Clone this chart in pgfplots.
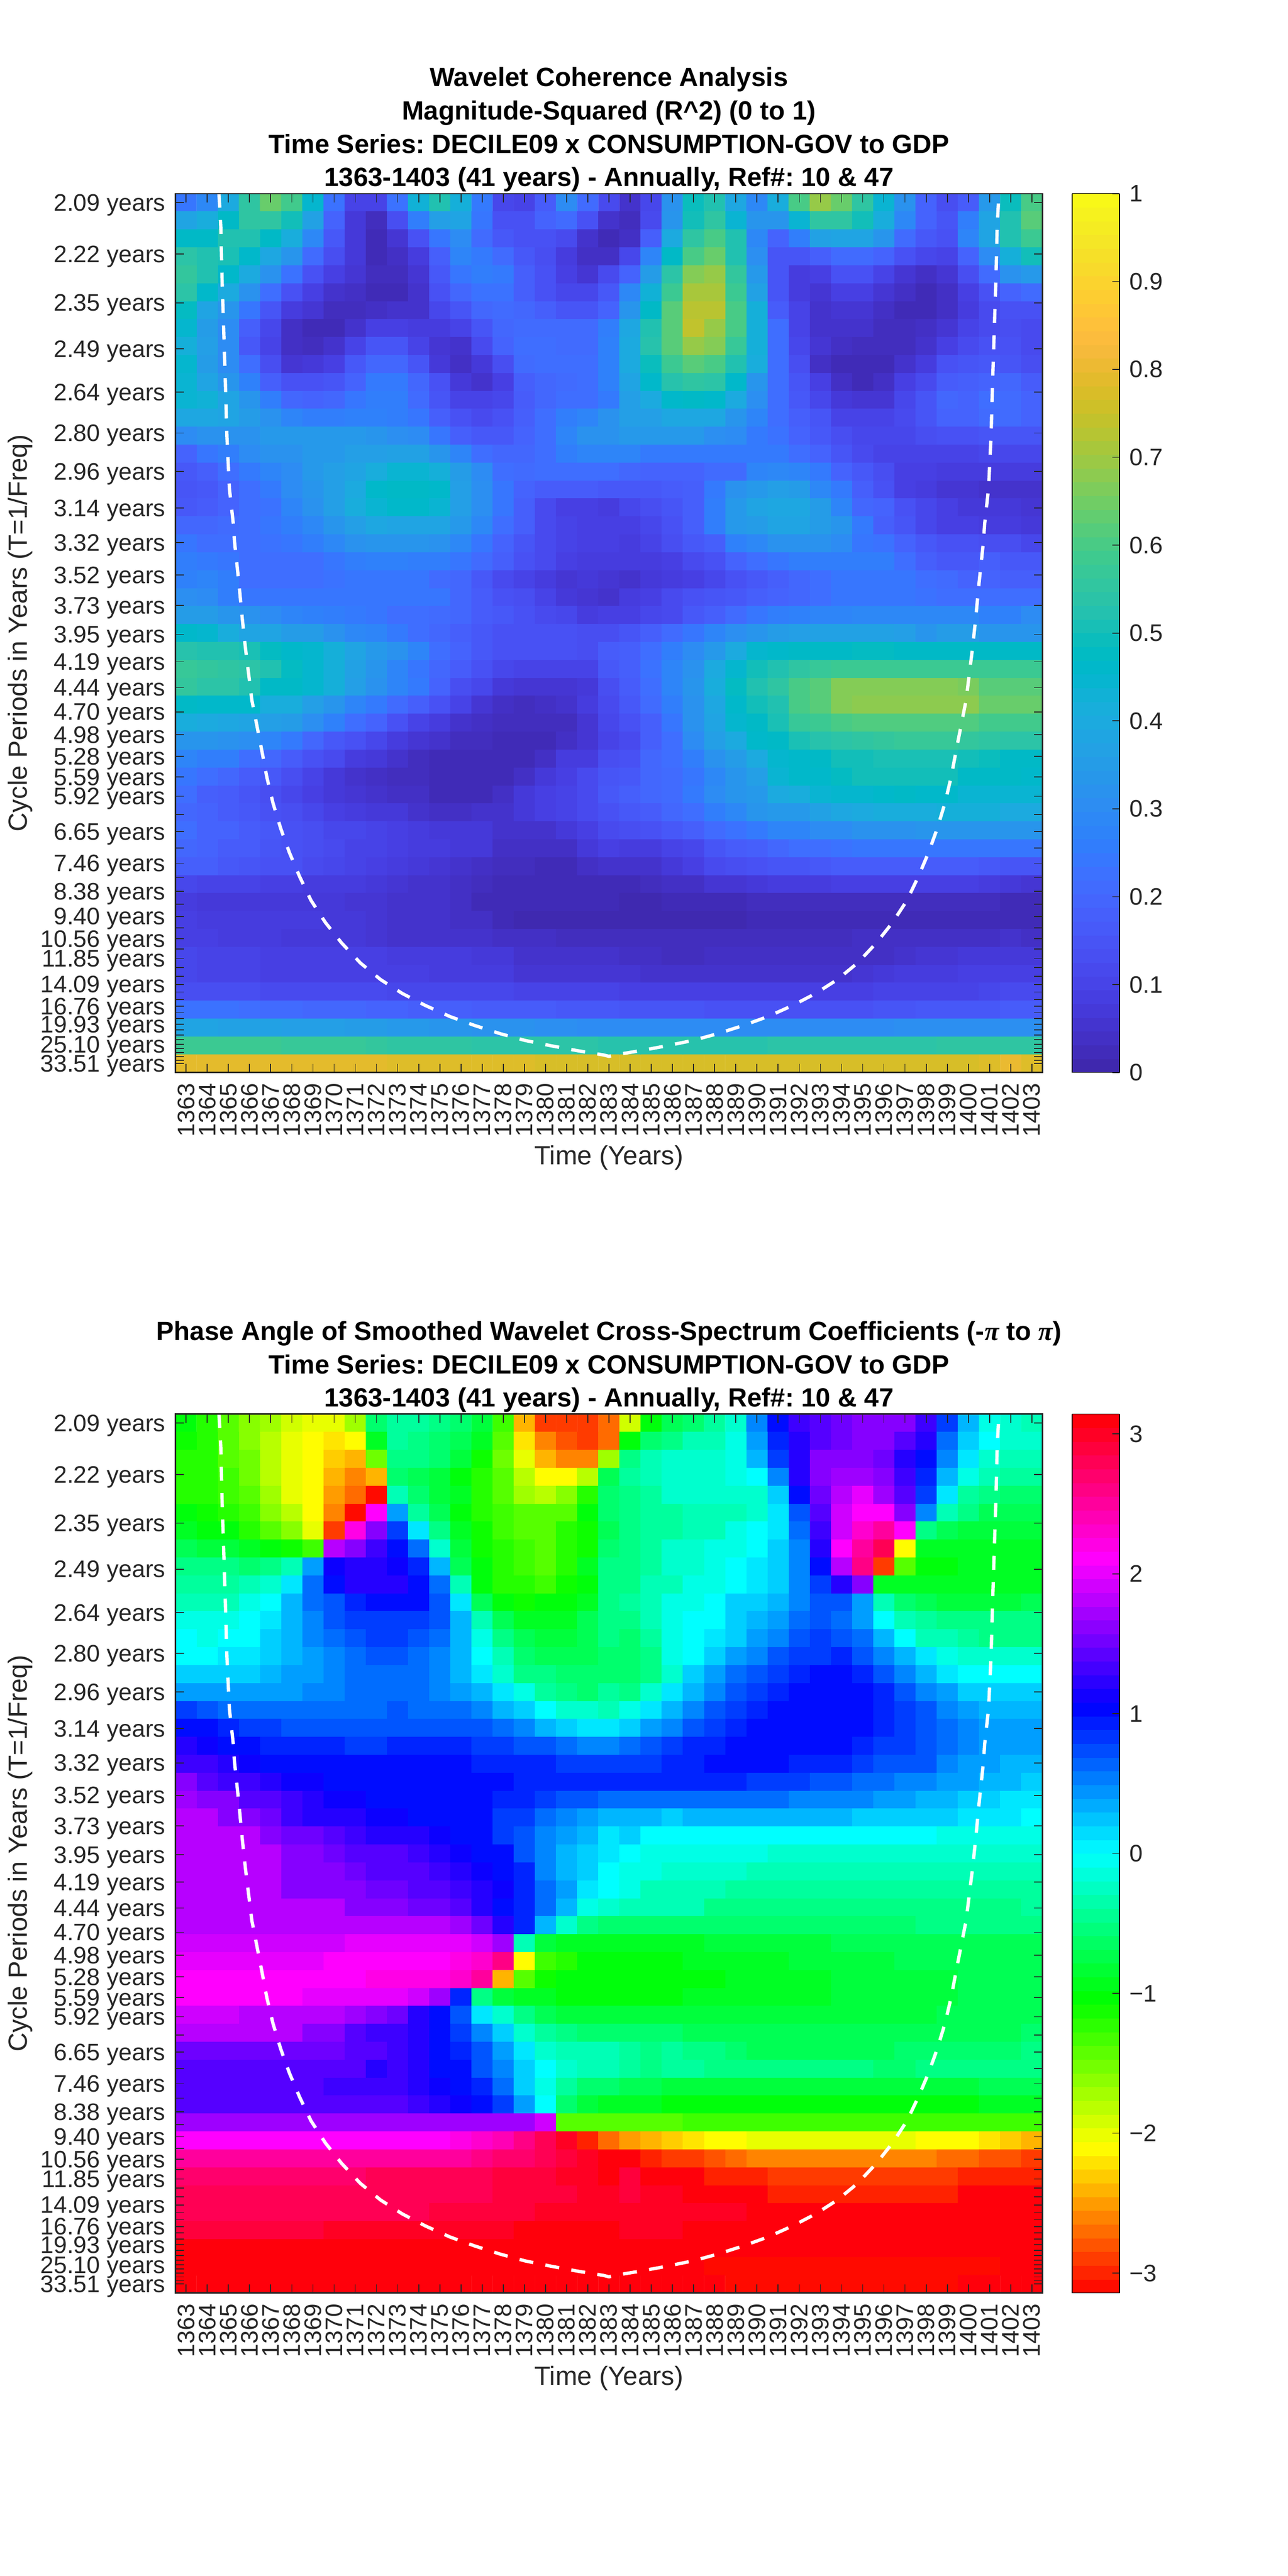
\documentclass[border=0pt]{standalone}
\usepackage{pgfplots}
\usepackage{pgfplotstable}
\usepackage{fontspec}
\pgfplotsset{compat=1.18}
\setmainfont{Liberation Sans}
\newfontfamily\pifont{Liberation Serif}
\pgfplotsset{colormap={parulaold}{rgb=(.2422,.1504,.6603) rgb=(.2504,.1650,.7076) rgb=(.2578,.1818,.7511) rgb=(.2647,.1978,.7952) rgb=(.2706,.2147,.8364) rgb=(.2751,.2342,.8710) rgb=(.2783,.2559,.8991) rgb=(.2803,.2782,.9221) rgb=(.2813,.3006,.9414) rgb=(.2810,.3228,.9579) rgb=(.2795,.3447,.9717) rgb=(.2760,.3667,.9829) rgb=(.2699,.3892,.9906) rgb=(.2602,.4123,.9952) rgb=(.2440,.4358,.9988) rgb=(.2206,.4603,.9973) rgb=(.1963,.4847,.9892) rgb=(.1834,.5074,.9798) rgb=(.1786,.5289,.9682) rgb=(.1764,.5499,.9520) rgb=(.1687,.5703,.9359) rgb=(.1540,.5902,.9218) rgb=(.1460,.6091,.9079) rgb=(.1380,.6276,.8973) rgb=(.1248,.6459,.8883) rgb=(.1113,.6635,.8763) rgb=(.0952,.6798,.8598) rgb=(.0689,.6948,.8394) rgb=(.0297,.7082,.8163) rgb=(.0036,.7203,.7917) rgb=(.0067,.7312,.7660) rgb=(.0433,.7411,.7394) rgb=(.0964,.7500,.7120) rgb=(.1408,.7584,.6842) rgb=(.1717,.7670,.6554) rgb=(.1938,.7758,.6251) rgb=(.2161,.7843,.5923) rgb=(.2470,.7918,.5567) rgb=(.2906,.7973,.5188) rgb=(.3406,.8008,.4789) rgb=(.3909,.8029,.4354) rgb=(.4456,.8024,.3909) rgb=(.5044,.7993,.3480) rgb=(.5616,.7942,.3045) rgb=(.6174,.7876,.2612) rgb=(.6720,.7793,.2227) rgb=(.7242,.7698,.1910) rgb=(.7738,.7598,.1646) rgb=(.8203,.7498,.1535) rgb=(.8634,.7406,.1596) rgb=(.9035,.7330,.1774) rgb=(.9393,.7288,.2100) rgb=(.9728,.7298,.2394) rgb=(.9956,.7434,.2371) rgb=(.9970,.7659,.2199) rgb=(.9952,.7893,.2028) rgb=(.9892,.8136,.1885) rgb=(.9786,.8386,.1766) rgb=(.9676,.8639,.1643) rgb=(.9610,.8890,.1537) rgb=(.9597,.9135,.1423) rgb=(.9628,.9373,.1265) rgb=(.9691,.9606,.1064) rgb=(.9769,.9839,.0805)}}
\pgfplotsset{colormap={hsvold}{rgb=(1,0,0) rgb=(1,1,0) rgb=(0,1,0) rgb=(0,1,1) rgb=(0,0,1) rgb=(1,0,1) rgb=(1,0,0)}}
% R^2 x 100: 49 rows (periods) x 41 columns (years)
\pgfplotstableread[header=false]{
24 29 40 55 64 59 45 23 10 10 23 43 52 42 25 11 10 17 30 21 12 5 11 32 49 52 39 29 41 60 69 64 55 44 32 19 13 17 34 49 60
38 41 47 55 55 50 37 19 7 3 13 26 36 38 24 14 14 19 21 14 5 3 12 33 50 55 44 33 33 44 55 55 50 41 29 19 15 26 38 52 62
47 47 52 52 47 41 29 16 7 2 6 14 24 30 21 16 14 14 12 5 2 4 18 40 55 60 52 29 19 26 37 38 38 33 21 16 14 28 38 52 58
54 52 51 46 39 33 21 13 7 2 4 8 18 28 25 21 16 13 8 4 4 11 28 47 60 64 52 31 15 15 18 21 21 19 14 11 10 19 30 42 50
56 52 46 40 32 23 14 9 6 3 3 6 16 24 26 25 18 14 9 6 12 19 35 54 67 69 56 34 15 8 9 14 14 10 6 4 6 13 21 32 34
54 46 40 32 22 14 9 5 4 2 2 5 14 20 23 23 18 14 11 11 16 29 43 58 71 71 58 37 15 8 6 9 9 6 4 2 4 9 14 19 21
48 38 33 24 15 8 6 3 3 4 5 5 11 15 20 21 20 18 15 15 19 33 47 62 73 73 60 42 17 10 5 6 6 4 2 2 4 8 12 14 14
45 35 30 18 11 4 2 2 5 9 9 8 8 10 15 20 21 21 21 21 26 39 52 62 74 69 60 42 22 10 5 5 5 3 3 4 6 10 12 13 12
42 36 30 16 10 4 3 5 10 15 15 10 6 5 12 19 22 22 21 21 27 40 53 62 69 67 57 42 22 11 6 4 3 3 3 5 9 12 14 14 12
45 35 30 22 13 6 7 9 16 20 20 15 7 4 7 13 21 22 22 22 27 40 49 58 62 60 52 41 22 13 4 2 2 2 5 8 14 15 16 15 13
44 38 33 27 18 14 14 15 19 25 25 20 14 7 5 9 18 20 21 22 27 38 46 53 55 54 46 33 22 15 9 4 2 4 9 12 17 18 19 20 17
44 43 38 33 26 20 19 20 24 26 26 21 15 10 10 11 17 20 22 22 25 36 40 46 47 46 40 31 22 16 11 7 6 6 11 15 20 19 22 21 19
39 39 38 35 32 28 26 26 27 27 26 24 18 14 12 14 18 22 26 28 32 36 36 39 39 39 33 28 22 18 15 10 10 10 12 15 19 19 21 21 19
30 32 32 32 34 34 34 34 34 33 31 30 24 18 16 16 19 22 28 32 32 34 34 34 34 31 30 25 23 19 16 13 11 11 11 13 14 14 15 15 15
19 24 26 30 32 32 34 34 36 36 37 37 33 28 22 20 20 22 26 28 28 28 25 25 25 25 25 25 25 22 19 15 12 10 10 10 10 10 11 11 11
16 18 22 25 28 30 34 36 38 41 44 44 42 35 30 22 21 22 22 22 22 20 19 19 19 21 21 28 29 28 25 19 16 13 9 9 8 8 8 8 8
15 16 19 22 25 30 33 36 40 46 47 47 46 36 31 24 19 17 17 17 16 16 16 17 18 25 32 34 36 35 29 25 18 14 9 8 6 6 5 5 5
16 17 19 22 23 28 32 36 41 44 46 46 44 36 31 24 18 12 9 9 8 11 13 15 18 26 34 38 39 39 35 28 20 19 14 11 9 7 7 7 6
20 20 21 22 24 26 29 33 36 39 38 38 38 34 29 22 18 12 10 9 9 9 11 14 18 26 34 35 38 38 35 33 25 18 15 11 9 9 8 8 7
24 22 22 22 23 24 26 29 32 33 33 33 32 29 24 19 15 12 10 9 9 8 10 13 16 18 27 29 32 32 32 30 24 23 19 16 14 14 13 13 11
26 25 24 22 22 22 22 24 26 27 27 26 26 24 21 18 14 12 9 8 8 8 8 9 12 14 19 22 24 26 26 26 26 26 22 18 16 16 18 16 16
27 28 26 22 22 22 22 23 24 24 24 24 21 20 16 12 10 8 6 7 6 5 7 8 9 11 14 16 18 20 22 24 24 24 24 22 21 19 19 18 18
31 30 26 24 24 24 24 24 24 24 24 24 24 20 17 14 13 10 7 6 5 8 9 12 14 15 16 18 19 20 22 24 24 24 24 23 22 22 22 22 22
35 35 33 32 30 28 27 26 25 24 22 22 21 20 17 16 14 12 11 8 9 9 11 12 16 18 21 24 26 27 28 28 29 29 29 29 29 29 27 27 30
46 45 41 38 38 35 35 32 29 28 25 22 20 18 16 14 14 14 14 13 13 15 18 21 24 28 31 33 35 36 37 37 37 37 36 33 35 35 33 33 33
53 52 52 51 48 46 45 42 38 34 32 28 22 19 16 14 14 14 14 13 17 18 22 26 30 34 40 45 46 47 47 47 48 48 47 47 47 47 47 47 47
57 56 55 54 52 48 45 42 37 33 28 24 20 17 14 11 10 10 10 10 16 18 23 28 32 40 45 50 52 55 57 58 58 58 58 58 58 58 58 58 58
56 54 54 52 47 47 45 42 36 32 28 25 19 13 11 7 6 6 6 7 13 17 22 28 33 41 48 52 55 60 62 67 67 67 67 67 67 66 62 62 62
47 46 46 46 41 41 36 33 28 25 21 18 14 10 6 4 3 4 5 8 12 16 21 26 32 39 46 50 52 60 62 67 68 68 68 68 68 68 64 64 64
41 40 39 38 36 35 31 27 22 19 14 10 8 5 4 3 3 3 3 6 11 14 18 24 32 38 45 47 51 57 58 60 61 61 61 61 61 61 59 59 59
33 33 32 31 28 25 20 16 14 11 8 6 5 3 3 2 2 2 4 6 10 12 18 22 30 36 40 46 47 51 53 54 55 56 57 57 57 56 55 54 54
28 26 26 22 20 17 14 12 8 7 5 3 2 2 2 2 2 4 8 8 13 14 20 22 26 32 35 40 45 46 47 50 50 51 51 51 51 50 49 47 47
24 22 20 17 16 13 10 7 5 4 3 3 2 2 2 2 4 7 9 12 15 16 20 21 24 29 33 36 44 46 46 48 50 50 50 50 50 47 47 47 46
22 18 17 15 13 11 9 7 6 5 4 4 2 2 2 4 7 9 10 12 16 18 20 21 25 30 33 34 40 41 44 45 45 46 47 46 46 44 44 44 44
20 19 17 16 14 13 11 9 8 7 7 5 4 4 5 5 7 9 10 12 14 16 17 20 22 26 29 33 34 34 37 39 40 41 41 41 42 42 42 40 40
22 19 19 17 16 14 13 11 11 10 9 8 7 7 7 5 5 5 7 9 12 13 14 16 18 21 23 25 28 28 30 30 32 32 32 33 33 33 33 33 33
20 19 17 17 15 14 13 12 10 10 9 8 8 7 7 4 4 4 4 7 9 8 8 10 11 15 17 18 20 22 22 23 24 24 24 24 24 24 24 24 24
18 18 16 15 14 14 12 11 10 9 8 7 6 5 4 3 3 2 2 4 5 5 5 7 9 12 13 14 15 15 16 17 17 17 17 17 17 17 16 15 15
11 10 10 10 9 9 8 8 8 7 6 5 5 4 3 2 2 2 2 2 2 2 3 4 4 6 6 7 8 8 8 9 9 9 9 9 9 9 8 7 6
8 7 7 7 7 7 7 7 6 6 5 5 5 4 2 2 2 2 2 2 2 1 1 2 2 2 2 3 3 3 3 3 3 3 3 3 3 3 3 2 2
9 8 8 8 8 8 8 7 7 6 5 5 5 4 4 2 1 1 1 1 1 1 1 1 1 1 1 2 2 2 2 2 2 2 2 2 2 2 2 2 2
9 9 8 8 8 7 7 7 7 6 5 5 5 5 5 4 4 4 3 3 3 3 3 3 3 3 3 3 3 3 3 3 4 4 4 4 4 4 4 5 4
11 10 10 10 9 9 9 9 9 9 8 8 8 8 7 7 5 5 5 5 5 4 4 3 3 4 4 4 4 4 4 4 4 4 5 6 6 7 7 7 7
11 10 10 10 9 9 9 9 9 9 9 9 8 8 8 8 6 6 6 6 6 6 5 5 5 5 5 5 5 5 5 5 6 7 8 8 8 9 9 9 9
13 13 13 13 12 12 12 12 12 12 11 11 11 11 11 11 10 10 10 10 10 9 9 9 9 9 9 9 9 9 9 9 9 10 10 10 10 10 11 12 12
23 23 23 22 21 21 20 20 20 19 19 18 18 18 17 17 17 17 16 16 16 15 15 15 15 14 14 14 14 14 14 14 14 15 15 16 16 16 16 17 17
38 38 37 37 37 36 36 36 35 35 34 34 33 33 32 32 32 31 31 30 30 30 30 30 30 30 30 30 30 30 30 30 30 30 31 31 31 31 31 31 31
58 58 58 58 58 57 57 57 57 56 55 55 55 55 54 54 54 54 54 54 53 53 53 53 53 53 53 53 54 54 54 54 54 54 54 54 55 55 55 55 55
79 79 79 79 79 79 79 79 79 79 78 78 78 78 78 78 78 77 77 77 77 77 77 77 77 77 77 77 77 77 77 77 77 77 77 77 77 77 78 80 78
}\tableA
% phase angle x 10 (radians)
\pgfplotstableread[header=false]{
-10 -12 -14 -16 -17 -19 -20 -20 -17 -6 -4 -4 -5 -6 -8 -13 -24 -29 -29 -29 -27 -19 -10 -7 -6 -4 -2 5 10 13 14 15 16 16 16 13 8 3 -1 -2 -3
-11 -12 -14 -16 -18 -20 -21 -22 -21 -9 -4 -5 -6 -7 -9 -14 -22 -26 -28 -29 -27 -10 -6 -5 -3 -3 -1 4 9 12 14 15 16 16 14 12 6 2 0 -2 -2
-12 -12 -14 -15 -18 -20 -21 -23 -24 -15 -5 -5 -6 -8 -11 -15 -20 -24 -26 -26 -17 -5 -3 -2 -2 -2 -1 3 8 12 16 16 16 15 12 10 5 1 -2 -3 -3
-12 -12 -13 -15 -18 -20 -21 -24 -26 -24 -6 -7 -8 -10 -12 -14 -18 -21 -21 -18 -7 -4 -3 -2 -2 -2 -1 0 5 12 16 17 17 16 13 9 3 -1 -3 -4 -4
-12 -12 -13 -14 -17 -20 -21 -25 -27 -31 -3 -6 -8 -9 -12 -14 -17 -18 -16 -12 -6 -5 -4 -2 -2 -2 -2 -2 2 10 15 18 20 17 14 8 1 -4 -5 -6 -6
-10 -11 -12 -13 -16 -18 -21 -26 -31 21 4 -4 -7 -10 -12 -13 -14 -14 -14 -10 -6 -5 -4 -4 -3 -3 -3 -2 1 7 14 19 21 21 16 5 -3 -5 -7 -7 -7
-9 -10 -10 -12 -14 -16 -20 -29 22 16 8 1 -5 -9 -11 -13 -14 -14 -12 -11 -7 -5 -4 -4 -3 -3 -1 0 1 6 13 19 23 25 21 -5 -7 -8 -8 -8 -8
-7 -8 -8 -9 -10 -11 -13 18 16 13 10 6 -2 -8 -11 -12 -13 -14 -12 -11 -6 -5 -4 -2 -2 -1 -1 0 2 5 12 21 25 28 -21 -9 -9 -9 -9 -9 -9
-5 -5 -5 -6 -5 -3 4 11 12 12 11 9 3 -7 -10 -12 -13 -14 -12 -9 -5 -5 -4 -2 -2 -1 0 1 2 5 10 18 26 -29 -14 -10 -10 -9 -9 -9 -9
-4 -4 -4 -3 -2 1 6 10 12 12 12 10 6 -3 -10 -12 -12 -13 -11 -10 -5 -5 -3 -3 -1 -1 0 1 2 5 8 12 16 -9 -9 -9 -9 -9 -9 -9 -9
-3 -3 -3 -1 0 3 6 7 9 10 10 10 7 1 -7 -10 -11 -10 -10 -9 -5 -4 -3 -1 -1 0 2 2 3 5 7 7 4 -3 -6 -7 -8 -8 -8 -8 -7
-1 -1 -1 0 1 3 5 7 8 8 8 8 7 3 -3 -7 -9 -9 -9 -7 -5 -5 -3 -1 0 0 2 3 4 6 7 6 4 0 -3 -4 -5 -5 -5 -5 -5
0 -1 0 0 2 3 5 6 7 8 8 7 6 3 -1 -5 -7 -8 -8 -7 -5 -6 -4 -1 0 1 2 4 5 7 8 7 6 3 0 -3 -3 -4 -5 -5 -5
0 0 1 1 2 3 4 5 6 7 7 6 5 3 0 -3 -6 -7 -7 -7 -6 -6 -5 -1 0 2 4 5 7 8 8 9 7 5 3 1 -1 -2 -2 -2 -2
2 2 2 2 3 4 4 5 6 6 6 6 5 3 1 -2 -5 -5 -6 -6 -6 -6 -5 -2 2 4 6 7 8 9 10 10 9 7 5 3 1 0 0 0 0
4 4 4 4 4 4 5 5 6 6 6 6 5 4 3 1 -1 -4 -5 -6 -4 -5 -2 1 3 5 7 8 9 10 10 10 10 9 7 5 4 2 2 2 2
8 7 6 6 6 6 6 6 6 6 7 6 6 6 5 3 2 0 -2 -2 -3 -1 1 3 5 7 8 9 10 10 10 10 10 9 8 7 5 4 3 3 3
10 10 9 8 8 7 7 7 7 7 7 7 7 7 7 6 5 3 2 1 1 2 4 5 7 8 9 10 10 10 10 10 10 9 8 7 6 5 4 4 4
12 11 10 10 9 9 9 9 8 8 9 9 9 9 8 8 7 7 6 5 5 6 7 8 9 9 10 10 10 10 10 10 9 8 8 7 6 5 4 4 4
13 13 12 11 10 10 10 10 10 10 10 10 10 10 9 9 9 9 8 8 8 8 8 9 9 10 10 10 10 9 9 9 8 7 7 7 5 4 4 3 3
16 14 13 13 12 11 11 10 10 10 10 10 10 10 10 10 9 9 9 9 9 9 9 9 9 9 9 8 8 8 7 7 6 6 5 5 4 4 3 3 2
17 16 16 14 14 13 12 11 11 10 10 10 10 10 10 9 9 8 7 7 6 6 6 6 6 6 6 6 6 5 5 5 5 4 4 3 3 2 2 1 1
18 18 16 16 15 13 12 12 12 11 11 10 10 10 10 8 8 6 5 4 3 3 3 2 3 3 3 3 3 3 3 3 2 2 2 2 2 1 1 1 0
18 18 18 18 16 15 15 14 13 12 12 12 11 10 10 8 7 5 4 3 1 2 0 0 0 0 0 0 0 0 0 0 0 0 0 0 -1 -1 -1 -1 -1
18 18 18 18 18 16 16 15 14 14 14 13 12 11 10 10 7 5 3 2 1 0 -1 -1 -1 -1 -1 -1 -2 -2 -2 -2 -2 -2 -2 -2 -2 -2 -2 -2 -2
18 18 18 18 18 16 16 16 15 14 14 14 13 12 11 10 9 5 3 2 0 -1 -1 -2 -2 -2 -2 -3 -3 -3 -3 -3 -3 -3 -3 -3 -3 -3 -3 -3 -3
18 18 18 18 18 16 16 16 16 15 15 14 14 13 12 11 9 6 4 1 0 -1 -3 -3 -3 -3 -4 -4 -4 -4 -4 -4 -4 -4 -4 -4 -4 -4 -4 -4 -4
18 18 18 18 18 18 18 18 16 16 16 15 15 14 12 10 9 6 3 -1 -2 -3 -3 -3 -3 -5 -5 -5 -5 -5 -5 -5 -5 -5 -5 -5 -5 -5 -5 -5 -4
18 18 18 18 18 18 18 18 18 18 18 18 18 17 15 12 9 3 -2 -5 -6 -6 -6 -6 -6 -6 -6 -6 -6 -6 -6 -6 -6 -6 -6 -5 -5 -5 -5 -5 -5
19 19 19 19 19 19 19 19 20 20 20 20 20 20 19 17 -3 -8 -9 -9 -9 -9 -9 -9 -9 -8 -8 -8 -8 -8 -8 -7 -7 -7 -7 -7 -7 -7 -7 -7 -7
20 20 20 20 20 20 20 21 21 21 21 21 21 22 23 26 -21 -13 -12 -10 -10 -10 -10 -10 -9 -9 -9 -9 -9 -8 -8 -8 -8 -8 -7 -7 -7 -7 -7 -7 -7
21 21 21 21 21 21 21 21 21 22 22 22 22 23 25 -24 -14 -11 -10 -10 -10 -10 -10 -10 -10 -10 -9 -9 -9 -9 -9 -8 -8 -8 -8 -8 -8 -7 -7 -7 -7
21 21 21 21 21 21 20 20 20 20 20 19 17 9 -5 -8 -9 -9 -10 -10 -10 -10 -10 -10 -9 -9 -9 -9 -9 -9 -9 -8 -8 -8 -8 -8 -8 -7 -7 -7 -7
19 19 19 18 18 18 18 18 17 16 15 12 10 7 1 -2 -5 -7 -8 -8 -8 -8 -8 -8 -8 -8 -8 -8 -8 -8 -8 -8 -8 -8 -8 -8 -7 -7 -7 -7 -7
18 18 18 18 18 18 16 16 14 13 13 12 10 8 5 2 -2 -4 -5 -6 -6 -6 -6 -6 -7 -7 -7 -7 -7 -7 -7 -7 -7 -7 -7 -7 -7 -7 -7 -7 -6
15 15 15 15 15 15 15 15 14 14 13 12 10 9 7 4 1 -2 -3 -3 -3 -4 -5 -4 -5 -5 -6 -7 -7 -7 -7 -7 -7 -7 -6 -6 -6 -6 -6 -6 -5
14 14 14 14 14 14 14 14 14 12 13 12 10 10 7 5 2 0 -2 -3 -3 -4 -5 -4 -4 -5 -5 -5 -5 -5 -5 -5 -5 -6 -6 -5 -5 -5 -5 -5 -5
14 14 14 14 14 14 14 13 13 13 13 12 11 10 9 6 2 -1 -4 -6 -6 -7 -7 -8 -8 -8 -8 -8 -8 -8 -8 -8 -8 -8 -8 -8 -8 -8 -7 -7 -7
14 14 14 14 14 14 14 14 14 14 14 13 12 11 10 8 4 0 -6 -8 -9 -9 -9 -10 -10 -10 -10 -10 -10 -10 -10 -10 -10 -10 -10 -10 -10 -10 -9 -9 -9
17 17 17 17 17 17 17 17 17 17 17 17 17 17 17 17 17 19 -14 -14 -14 -14 -14 -14 -13 -13 -13 -13 -13 -13 -13 -13 -13 -13 -13 -13 -13 -13 -13 -13 -13
21 21 21 21 21 21 21 21 21 21 21 21 21 22 23 24 26 28 30 -30 -27 -25 -24 -23 -22 -21 -21 -20 -20 -20 -20 -20 -20 -20 -20 -21 -21 -21 -22 -23 -24
25 25 25 25 25 25 25 25 25 25 25 25 25 25 26 27 27 28 29 30 31 31 -30 -29 -29 -28 -27 -26 -26 -26 -26 -26 -26 -26 -26 -26 -27 -27 -28 -28 -29
27 27 27 27 27 27 27 27 27 28 28 28 28 28 28 29 29 29 30 30 31 29 31 31 31 -30 -30 -30 -29 -29 -29 -29 -29 -29 -29 -29 -29 -30 -30 -30 -30
28 28 28 28 28 28 28 28 28 28 28 28 28 28 28 29 29 29 29 30 30 29 30 30 31 31 31 31 -30 -30 -30 -30 -30 -30 -30 -30 -30 31 31 31 31
28 28 28 28 28 28 28 28 28 28 28 28 29 29 29 29 29 30 30 30 30 30 30 30 30 30 30 31 31 31 31 31 31 31 31 31 31 31 31 31 31
29 29 29 29 29 29 29 30 30 30 30 30 30 30 30 30 31 31 31 31 31 30 30 30 31 31 31 31 31 31 31 31 31 31 31 31 31 31 31 31 31
31 31 31 31 31 31 31 31 31 31 31 31 31 31 31 31 31 31 31 31 31 31 31 31 31 31 31 31 31 31 31 31 31 31 31 31 31 31 31 31 31
31 31 31 31 31 31 31 31 31 31 31 31 31 31 31 31 31 31 31 31 31 31 31 31 31 -31 -31 -31 -31 -31 -31 -31 -31 -31 -31 -31 -31 -31 -31 31 31
31 31 31 31 31 31 31 31 31 31 31 31 31 31 31 31 31 31 31 31 31 31 31 31 31 31 -31 -31 -31 -31 -31 -31 -31 -31 -31 -31 -31 31 31 31 31
}\tableB
\pgfplotstableread{
c r
1.556 -0.5
1.64 1.31
1.70 4.25
1.78 7.18
1.86 10.11
1.93 13.04
2.05 15.96
2.23 17.87
2.29 18.90
2.50 21.24
2.66 23.23
2.81 24.87
2.95 26.2
3.11 27.74
3.35 29.17
3.59 30.61
3.82 32.04
4.11 33.48
4.48 34.91
4.89 36.25
5.37 37.58
5.91 38.91
6.59 40.14
7.35 41.27
8.24 42.39
9.20 43.32
10.22 44.09
11.31 44.76
12.48 45.38
13.65 45.88
14.87 46.34
16.02 46.71
17.26 47.01
18.49 47.28
19.73 47.52
20 47.6
20.27 47.52
21.51 47.28
22.74 47.01
23.98 46.71
25.13 46.34
26.35 45.88
27.52 45.38
28.69 44.76
29.78 44.09
30.8 43.32
31.76 42.39
32.65 41.27
33.41 40.14
34.09 38.91
34.63 37.58
35.11 36.25
35.52 34.91
35.89 33.48
36.18 32.04
36.41 30.61
36.65 29.17
36.89 27.74
37.05 26.2
37.19 24.87
37.34 23.23
37.5 21.24
37.71 18.9
37.77 17.87
37.95 15.96
38.07 13.04
38.14 10.11
38.22 7.18
38.3 4.25
38.36 1.31
38.444 -0.5
}\tableCoi
\newcommand\buildcoords[2]{%
  \gdef#2{}%
  \foreach \rr in {0,...,48}{%
    \foreach \cc in {0,...,40}{%
      \pgfplotstablegetelem{\rr}{[index]\cc}\of{#1}%
      \xdef#2{#2 (\cc,\rr) [\pgfplotsretval]}%
    }%
  }%
}
\buildcoords{\tableA}{\coordsA}
\buildcoords{\tableB}{\coordsB}
\definecolor{tk}{gray}{0.15}
\pgfplotsset{waveaxis/.style={
  scale only axis, width=526pt, height=533.25pt, anchor=south west,
  xmin=-0.5, xmax=40.5, ymin=-0.5, ymax=48.5, y dir=reverse,
  axis on top, tick align=inside, major tick length=5.25pt,
  axis line style={tk, line width=0.8pt},
  tick style={tk, line width=0.55pt},
  tick label style={font=\fontsize{14.5}{17}\selectfont, text=tk},
  xtick={0,...,40},
  xticklabels={1363,1364,1365,1366,1367,1368,1369,1370,1371,1372,1373,1374,1375,1376,1377,1378,1379,1380,1381,1382,1383,1384,1385,1386,1387,1388,1389,1390,1391,1392,1393,1394,1395,1396,1397,1398,1399,1400,1401,1402,1403},
  xticklabel style={rotate=90, anchor=east, inner xsep=0pt, xshift=-6.5pt},
  yticklabel style={anchor=east, inner xsep=0pt, xshift=-6pt, yshift=-1.5pt},
  ytick={0,2.874,5.586,8.146,10.562,12.844,14.996,17.028,18.946,20.757,22.465,24.078,25.6,27.037,28.393,29.673,30.881,32.022,33.098,34.114,35.073,35.978,36.832,37.639,38.4,39.118,39.797,40.437,41.04,41.611,42.149,42.657,43.137,43.589,44.016,44.419,44.8,45.159,45.498,45.818,46.12,46.405,46.675,46.928,47.168,47.394,47.608,47.81,48},
  yticklabels={2.09 years,2.22 years,2.35 years,2.49 years,2.64 years,2.80 years,2.96 years,3.14 years,3.32 years,3.52 years,3.73 years,3.95 years,4.19 years,4.44 years,4.70 years,4.98 years,5.28 years,5.59 years,5.92 years,{},6.65 years,{},7.46 years,{},8.38 years,{},9.40 years,{},10.56 years,{},11.85 years,{},{},14.09 years,{},{},16.76 years,{},{},19.93 years,{},{},{},25.10 years,{},{},{},{},33.51 years},
  xlabel={Time (Years)}, ylabel={Cycle Periods in Years (T=1/Freq)},
  every axis x label/.style={at={(axis description cs:0.5,-0.097)}, anchor=center, font=\fontsize{16}{19}\selectfont, text=tk},
  every axis y label/.style={at={(axis description cs:-0.179,0.5)}, rotate=90, anchor=center, font=\fontsize{16}{19}\selectfont, text=tk},
  title style={at={(axis description cs:0.5,1)}, anchor=south, align=center, yshift=-8.5pt,
    font=\fontsize{16}{20.25}\selectfont\bfseries\frenchspacing},
  colorbar sampled,
}}
\begin{document}
\begin{tikzpicture}
\useasboundingbox (0pt,0pt) rectangle (781.25pt,1563pt);
\edef\plotA{\noexpand\addplot[matrix plot, line width=0.12pt, mesh/cols=41, point meta=explicit] coordinates {\coordsA};}
\edef\plotB{\noexpand\addplot[matrix plot, line width=0.12pt, mesh/cols=41, point meta=explicit] coordinates {\coordsB};}
\begin{axis}[waveaxis, at={(106.5pt,912.25pt)},
  title={Wavelet Coherence Analysis\\Magnitude-Squared (R\textasciicircum 2) (0 to 1)\\Time Series: DECILE09 x CONSUMPTION-GOV to GDP\\1363-1403 (41 years) - Annually, Ref\#: 10 \& 47},
  colormap name=parulaold, point meta min=0, point meta max=100,
  colorbar style={samples=65, scale only axis, at={(1.0342,1)}, anchor=north west,
    width=28.75pt, height=533.25pt, y dir=normal, xtick=\empty,
    ytick={0,10,20,30,40,50,60,70,80,90,100},
    yticklabels={0,0.1,0.2,0.3,0.4,0.5,0.6,0.7,0.8,0.9,1},
    yticklabel pos=right, ytick pos=right, tick align=inside,
    yticklabel style={anchor=west, inner xsep=0pt, xshift=6pt, yshift=0pt},
    axis on top},
]
\plotA
\addplot[white, line width=2pt, dash pattern=on 8.5pt off 7.5pt] table[x=c, y=r] {\tableCoi};
\end{axis}
\begin{axis}[waveaxis, at={(106.5pt,171.75pt)},
  title={Phase Angle of Smoothed Wavelet Cross-Spectrum Coefficients (-{\pifont\itshape π} to {\pifont\itshape π})\\Time Series: DECILE09 x CONSUMPTION-GOV to GDP\\1363-1403 (41 years) - Annually, Ref\#: 10 \& 47},
  colormap name=hsvold, point meta min=-31.416, point meta max=31.416,
  colorbar style={samples=65, scale only axis, at={(1.0342,1)}, anchor=north west,
    width=28.75pt, height=533.25pt, y dir=normal, xtick=\empty,
    ytick={-30,-20,-10,0,10,20,30},
    yticklabels={−3,−2,−1,0,1,2,3},
    yticklabel pos=right, ytick pos=right, tick align=inside,
    yticklabel style={anchor=west, inner xsep=0pt, xshift=6pt, yshift=0pt},
    axis on top},
]
\plotB
\addplot[white, line width=2pt, dash pattern=on 8.5pt off 7.5pt] table[x=c, y=r] {\tableCoi};
\end{axis}
\end{tikzpicture}
\end{document}
